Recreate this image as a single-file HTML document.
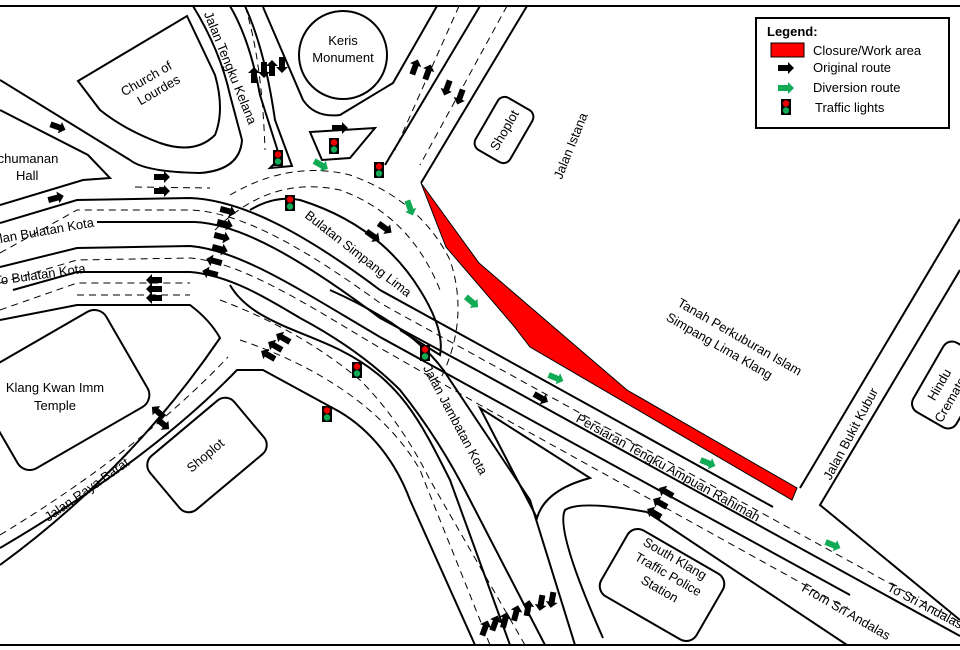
<!DOCTYPE html>
<html><head><meta charset="utf-8"><style>
html,body{margin:0;padding:0;background:#fff}
svg{display:block}
text{font-family:"Liberation Sans",Arial,sans-serif;font-size:13px;fill:#000}
</style></head><body>
<svg width="960" height="650" viewBox="0 0 960 650" xmlns="http://www.w3.org/2000/svg">
<defs>
<path id="ar" d="M-8,-3 L2,-3 L2,-6 L8,0 L2,6 L2,3 L-8,3 Z"/>
<g id="tl"><rect x="-5" y="-8" width="10" height="16" fill="#000"/><circle cx="0" cy="-3.5" r="3.2" fill="#e00"/><circle cx="0" cy="3.5" r="3.2" fill="#1a5"/></g>
</defs>
<rect width="960" height="650" fill="#fff"/>
<g fill="none" stroke="#000" stroke-width="2">
<line x1="0" y1="6" x2="960" y2="6"/>
<line x1="0" y1="645" x2="960" y2="645"/>
<path d="M0,80 L130,160 Q145,172 200,173 Q240,170 242,140 L230,95 Q220,50 193,6"/>
<path d="M78,81 L187,16 L215,75 Q225,110 215,135 Q195,155 160,143 Q125,130 100,110 Z"/>
<path d="M0,110 L88,155 L110,178 L83,180 L0,205"/>
<path d="M263,7 L303,100 Q315,118 340,115 L393,83 L437,6"/>
<path d="M230,6 Q250,40 260,95 L280,158 L270,168 L292,166 L275,120 Q265,50 245,6" />
<circle cx="343" cy="55" r="44"/>
<path d="M310,132 L375,128 L350,158 L322,160 Z"/>
<path d="M480,6 L385,165"/>
<path d="M527,6 L421,183"/>
<path d="M0,223 L77,200 L190,198 C240,200 300,230 380,290 L480,345 L773,507"/>
<path d="M97,222 L195,222 C240,224 300,258 380,318 L480,372 L960,636"/>
<path d="M0,267 L77,248 L190,246 C240,250 300,290 380,337 L480,392 L850,595"/>
<path d="M13,290 L77,272 L190,272 C230,275 270,300 300,318"/>
<path d="M0,320 L77,305 L190,305 Q210,320 220,338 Q130,470 0,565"/>
<path d="M0,548 Q150,460 237,370 L263,370 L340,412 C370,430 395,460 410,500 L475,645"/>
<path d="M230,285 C250,320 300,330 340,350 C400,380 420,420 450,480 L510,645"/>
<path d="M250,210 Q275,195 300,200 Q380,225 420,290 Q445,330 440,355 L400,330"/>
<path d="M300,318 Q360,350 400,390 Q440,440 470,500 L545,645"/>
<path d="M330,290 Q420,330 450,380 L530,500 L575,645"/>
<path d="M480,408 L590,478 Q545,490 537,518 Z"/>
<path d="M647,512 Q580,500 565,510 Q555,530 603,638"/>
<path d="M647,512 L847,645"/>
<path d="M800,488 L960,219"/>
<path d="M960,270 L820,505 L960,620"/>
<rect x="-75" y="-55" width="150" height="110" rx="14" transform="translate(62,390) rotate(-30)"/>
<rect x="-55" y="-35" width="110" height="70" rx="12" transform="translate(207,455) rotate(-40)"/>
<rect x="-30" y="-20" width="60" height="40" rx="8" transform="translate(504,130) rotate(-60)"/>
<rect x="-55" y="-38" width="110" height="76" rx="12" transform="translate(662,585) rotate(30)"/>
<rect x="-40" y="-25" width="80" height="50" rx="10" transform="translate(950,385) rotate(-60)"/>
</g>
<g fill="none" stroke="#000" stroke-width="1" stroke-dasharray="7,5">
<path d="M0,253 L77,210 L190,210 C240,212 300,245 380,303 L480,358 L960,622"/>
<path d="M0,283 L77,260 L190,258 C240,262 300,300 380,348 L480,405 L850,610"/>
<path d="M0,310 L77,283 L190,283"/><path d="M77,295 L190,295"/>
<path d="M0,535 Q140,450 228,357"/>
<path d="M459,6 L395,150"/><path d="M507,6 L420,165"/>
<path d="M245,6 Q262,60 265,150"/>
<path d="M230,195 Q290,160 350,175 Q420,200 450,260 Q470,320 440,380"/>
<path d="M215,230 Q270,175 340,190 Q410,215 440,290"/>
<path d="M240,340 C300,360 380,400 420,470 L490,645"/>
<path d="M220,300 Q300,330 360,380 Q400,420 430,480 L525,645"/>
<path d="M135,187 L210,188"/>
</g>
<polygon points="421,183 479,263 557,330 627,390 797,488 792,500 530,347 513,325 446,247" fill="#f00" stroke="#000" stroke-width="1"/>
<g fill="#000">
<use href="#ar" transform="translate(58,127) rotate(20)"/>
<use href="#ar" transform="translate(162,177)"/><use href="#ar" transform="translate(162,191)"/>
<use href="#ar" transform="translate(56,198) rotate(-15)"/>
<use href="#ar" transform="translate(228,211) rotate(15)"/><use href="#ar" transform="translate(225,224) rotate(15)"/>
<use href="#ar" transform="translate(222,237) rotate(15)"/><use href="#ar" transform="translate(220,249) rotate(15)"/>
<use href="#ar" transform="translate(214,261) rotate(195)"/><use href="#ar" transform="translate(210,273) rotate(195)"/>
<use href="#ar" transform="translate(154,280) rotate(180)"/><use href="#ar" transform="translate(154,289) rotate(180)"/><use href="#ar" transform="translate(154,298) rotate(180)"/>
<use href="#ar" transform="translate(254,75) rotate(-90)"/><use href="#ar" transform="translate(264,70) rotate(90)"/>
<use href="#ar" transform="translate(272,68) rotate(-90)"/><use href="#ar" transform="translate(282,65) rotate(90)"/>
<use href="#ar" transform="translate(340,128)"/>
<use href="#ar" transform="translate(415,67) rotate(-70)"/><use href="#ar" transform="translate(428,72) rotate(-70)"/>
<use href="#ar" transform="translate(447,88) rotate(110)"/><use href="#ar" transform="translate(460,97) rotate(110)"/>
<use href="#ar" transform="translate(385,228) rotate(35)"/><use href="#ar" transform="translate(373,236) rotate(35)"/>
<use href="#ar" transform="translate(283,338) rotate(210)"/><use href="#ar" transform="translate(275,346) rotate(210)"/><use href="#ar" transform="translate(268,355) rotate(210)"/>
<use href="#ar" transform="translate(158,412) rotate(-140)"/><use href="#ar" transform="translate(163,424) rotate(40)"/>
<use href="#ar" transform="translate(541,398) rotate(30)"/>
<use href="#ar" transform="translate(666,492) rotate(210)"/><use href="#ar" transform="translate(660,503) rotate(210)"/><use href="#ar" transform="translate(654,513) rotate(210)"/>
<use href="#ar" transform="translate(485,628) rotate(-70)"/><use href="#ar" transform="translate(495,623) rotate(-70)"/>
<use href="#ar" transform="translate(505,620) rotate(-75)"/><use href="#ar" transform="translate(516,613) rotate(-75)"/>
<use href="#ar" transform="translate(528,608) rotate(-80)"/><use href="#ar" transform="translate(541,603) rotate(100)"/><use href="#ar" transform="translate(552,600) rotate(100)"/>
</g>
<g fill="#1a5">
<use href="#ar" transform="translate(321,165) rotate(30)"/>
<use href="#ar" transform="translate(410,208) rotate(70)"/>
<use href="#ar" transform="translate(472,302) rotate(40)"/>
<use href="#ar" transform="translate(556,378) rotate(22)"/>
<use href="#ar" transform="translate(708,463) rotate(22)"/>
<use href="#ar" transform="translate(833,545) rotate(22)"/>
</g>
<use href="#tl" transform="translate(278,158)"/><use href="#tl" transform="translate(334,146)"/>
<use href="#tl" transform="translate(379,170)"/><use href="#tl" transform="translate(290,203)"/>
<use href="#tl" transform="translate(357,370)"/><use href="#tl" transform="translate(327,414)"/>
<use href="#tl" transform="translate(425,353)"/>
<text x="150" y="82" text-anchor="middle" transform="rotate(-30 150 85)">Church of</text>
<text x="155" y="98" text-anchor="middle" transform="rotate(-30 150 85)">Lourdes</text>
<text x="343" y="45" text-anchor="middle">Keris</text>
<text x="343" y="62" text-anchor="middle">Monument</text>
<text x="-6" y="163">tchumanan</text>
<text x="16" y="180">Hall</text>
<text x="55" y="392" text-anchor="middle">Klang Kwan Imm</text>
<text x="55" y="410" text-anchor="middle">Temple</text>
<text x="205" y="460" text-anchor="middle" transform="rotate(-40 205 455)">Shoplot</text>
<text x="504" y="135" text-anchor="middle" transform="rotate(-60 504 130)">Shoplot</text>
<text x="571" y="150" text-anchor="middle" transform="rotate(-68 571 146)">Jalan Istana</text>
<text x="230" y="72" text-anchor="middle" transform="rotate(68 230 68)">Jalan Tengku Kelana</text>
<text x="358" y="258" text-anchor="middle" transform="rotate(38 358 254)">Bulatan Simpang Lima</text>
<text x="455" y="424" text-anchor="middle" transform="rotate(62 455 420)">Jalan Jambatan Kota</text>
<text x="668" y="472" text-anchor="middle" transform="rotate(29 668 468)">Persiaran Tengku Ampuan Rahimah</text>
<text x="925" y="610" text-anchor="middle" transform="rotate(28 925 606)">To Sri Andalas</text>
<text x="846" y="616" text-anchor="middle" transform="rotate(30 846 612)">From Sri Andalas</text>
<text x="87" y="494" text-anchor="middle" transform="rotate(-35 87 490)">Jalan Raya Barat</text>
<text x="40" y="236" text-anchor="middle" transform="rotate(-10 40 232)">Jalan Bulatan Kota</text>
<text x="40" y="279" text-anchor="middle" transform="rotate(-8 40 275)">To Bulatan Kota</text>
<text x="851" y="438" text-anchor="middle" transform="rotate(-62 851 434)">Jalan Bukit Kubur</text>
<text x="735" y="340" text-anchor="middle" transform="rotate(30 735 345)">Tanah Perkuburan Islam</text>
<text x="722" y="358" text-anchor="middle" transform="rotate(30 735 345)">Simpang Lima Klang</text>
<text x="660" y="560" text-anchor="middle" transform="rotate(30 662 585)">South Klang</text>
<text x="662" y="577" text-anchor="middle" transform="rotate(30 662 585)">Traffic Police</text>
<text x="662" y="594" text-anchor="middle" transform="rotate(30 662 585)">Station</text>
<text x="945" y="380" text-anchor="middle" transform="rotate(-60 950 385)">Hindu</text>
<text x="950" y="397" text-anchor="middle" transform="rotate(-60 950 385)">Crematorium</text>
<rect x="756" y="18" width="193" height="110" fill="#fff" stroke="#000" stroke-width="2"/>
<text x="767" y="36" font-weight="bold">Legend:</text>
<rect x="771" y="43" width="33" height="14" fill="#f00" stroke="#000" stroke-width="1"/>
<text x="813" y="55">Closure/Work area</text>
<use href="#ar" fill="#000" transform="translate(786,68)"/>
<text x="813" y="72">Original route</text>
<use href="#ar" fill="#1a5" transform="translate(786,88)"/>
<text x="813" y="92">Diversion route</text>
<use href="#tl" transform="translate(786,107)"/>
<text x="815" y="112">Traffic lights</text>
</svg>
</body></html>
